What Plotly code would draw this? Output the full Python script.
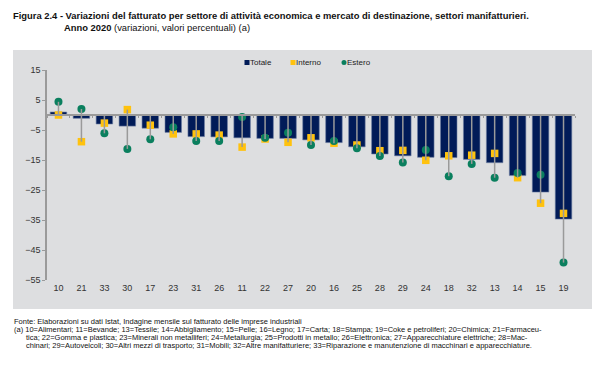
import plotly.graph_objects as go

settori = ["10", "21", "33", "30", "17", "23", "31", "26", "11", "22", "27",
           "20", "16", "25", "28", "29", "24", "18", "32", "13", "14", "15", "19"]
totale = [1.0, -1.1, -3.0, -3.7, -4.4, -5.8, -7.2, -7.3, -7.6, -7.8, -7.8,
          -8.3, -9.2, -10.6, -13.0, -13.6, -14.1, -14.2, -14.8, -15.9, -20.2, -25.7, -34.7]
interno = [0.0, -8.9, -2.7, 1.8, -3.4, -6.3, -6.3, -6.7, -10.7, -8.0, -9.1,
           -7.6, -9.4, -10.0, -11.9, -11.8, -15.1, -13.6, -13.4, -12.8, -20.9, -29.4, -32.8]
estero = [4.4, 2.0, -6.1, -11.3, -8.1, -4.1, -8.7, -8.7, -0.7, -7.6, -5.9,
          -10.0, -8.7, -11.1, -13.7, -15.8, -11.7, -20.4, -16.3, -20.9, -19.3, -19.9, -49.2]
y_ticks = [15, 5, -5, -15, -25, -35, -45, -55]
serie = ["Totale", "Interno", "Estero"]

NAVY = "#011b58"
YELLOW = "#ffc20e"
GREEN = "#0a7f5e"
GREY_BG = "#dddee0"
FONT = "Liberation Sans, Arial, sans-serif"

# page body has an 8px margin: work in reference pixels, shift by OFF
OFF = 8
W, H = 600 - OFF, 379 - OFF
PL, PR, PT, PB = 47, 575, 70, 280  # plot area in reference pixels
L, R, T, B = PL - OFF, W - (PR - OFF), PT - OFF, H - (PB - OFF)
pw = W - L - R
ph = H - T - B

def px(x):
    return (x - OFF - L) / pw

def py(y):
    return 1 - (y - OFF - T) / ph

# high-low connector lines (from max to min of 0, interno, estero)
lx, ly = [], []
for c, i, e in zip(settori, interno, estero):
    vals = [0, i, e]
    lx += [c, c, None]
    ly += [max(vals), min(vals), None]

fig = go.Figure()
fig.add_trace(go.Bar(x=settori, y=totale, name=serie[0], width=0.72,
                     marker=dict(color=NAVY, line=dict(color="#6f7fa3", width=0.6))))
fig.add_trace(go.Scatter(x=lx, y=ly, mode="lines", showlegend=False, hoverinfo="skip",
                         line=dict(color="#9a9a9a", width=1.5), xaxis="x2"))
fig.add_trace(go.Scatter(x=settori, y=interno, name=serie[1], mode="markers",
                         marker=dict(symbol="square", size=7.5, color=YELLOW)))
fig.add_trace(go.Scatter(x=settori, y=estero, name=serie[2], mode="markers",
                         marker=dict(symbol="circle", size=8, color=GREEN)))

shapes = [dict(type="rect", xref="paper", yref="paper", layer="below",
               x0=px(13), x1=px(594), y0=py(309), y1=py(50),
               fillcolor=GREY_BG, line=dict(width=0))]

# compact legend (marker immediately followed by its label, as in the original)
leg_x = [247, 293, 344]
leg_y = 62.5
leg_col = [NAVY, YELLOW, GREEN]
leg_kind = ["rect", "rect", "circle"]
for xm, col, kind in zip(leg_x, leg_col, leg_kind):
    hs = 2.5
    shapes.append(dict(type=kind, xref="paper", yref="paper",
                       x0=px(xm - hs), x1=px(xm + hs), y0=py(leg_y + hs), y1=py(leg_y - hs),
                       fillcolor=col, line=dict(width=0)))

fig.update_layout(
    width=W, height=H,
    margin=dict(l=L, r=R, t=T, b=B, pad=0),
    paper_bgcolor="white", plot_bgcolor="rgba(0,0,0,0)",
    showlegend=False,
    xaxis=dict(type="category", categoryarray=settori, range=[-0.5, len(settori) - 0.5],
               showline=False, ticks="", showgrid=False, zeroline=False,
               tickfont=dict(family=FONT, size=9, color="#333"),
               ticklabelstandoff=1),
    xaxis2=dict(type="category", categoryarray=settori, range=[-0.5, len(settori) - 0.5],
                overlaying="x", anchor="free", position=(0 - (-55)) / 70.0,
                side="bottom", showline=True, linecolor="#9a9a9a", linewidth=1.5,
                ticks="outside", tickson="boundaries", ticklen=2, tickcolor="#9a9a9a",
                showticklabels=False, showgrid=False, zeroline=False),
    yaxis=dict(range=[-55, 15], tickvals=y_ticks, showgrid=False, zeroline=False,
               showline=True, linecolor="#9a9a9a", linewidth=1.5, ticks="outside", ticklen=3,
               tickcolor="#9a9a9a",
               tickfont=dict(family=FONT, size=9, color="#333")),
    shapes=shapes,
)

def ann(text, xpx, ypx, size, color="#111"):
    fig.add_annotation(text=text, xref="paper", yref="paper",
                       x=px(xpx), y=py(ypx),
                       xanchor="left", yanchor="middle", showarrow=False,
                       font=dict(family=FONT, size=size, color=color), align="left",
                       borderpad=0)

for name, xm in zip(serie, leg_x):
    ann(name, xm + 2, leg_y, 8, color="#222")

ann("<b>Figura 2.4 - Variazioni del fatturato per settore di attività economica e mercato di destinazione, settori manifatturieri.</b>",
    12, 15, 9.4)
ann("<b>Anno 2020</b> (variazioni, valori percentuali) (a)", 63, 27, 9.4)

foot = 7.5
ann("Fonte: Elaborazioni su dati Istat, Indagine mensile sul fatturato delle imprese industriali", 13, 321, foot)
ann("(a) 10=Alimentari; 11=Bevande; 13=Tessile; 14=Abbigliamento; 15=Pelle; 16=Legno; 17=Carta; 18=Stampa; 19=Coke e petroliferi; 20=Chimica; 21=Farmaceu-",
    13, 329, foot)
ann("tica; 22=Gomma e plastica; 23=Minerali non metalliferi; 24=Metallurgia; 25=Prodotti in metallo; 26=Elettronica; 27=Apparecchiature elettriche; 28=Mac-",
    25, 337, foot)
ann("chinari; 29=Autoveicoli; 30=Altri mezzi di trasporto; 31=Mobili; 32=Altre manifatturiere; 33=Riparazione e manutenzione di macchinari e apparecchiature.",
    25, 345, foot)

fig.write_html("out.html")
